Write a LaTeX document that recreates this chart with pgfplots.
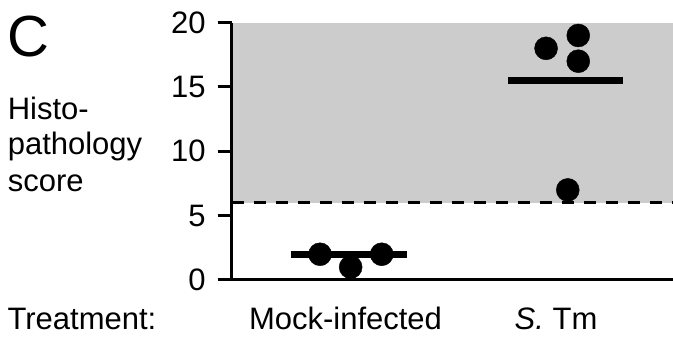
\documentclass[border=0pt]{standalone}
\usepackage{pgfplots}
\pgfplotsset{compat=1.18}
\usepackage{fontspec}
\setmainfont{Liberation Sans}
\begin{document}
\begin{tikzpicture}[x=1pt,y=1pt]
\useasboundingbox (0,0) rectangle (673,339);
\begin{axis}[
  at={(231.7pt,59pt)}, anchor=origin,
  x=223.6pt, y=12.87pt,
  xmin=0, xmax=1.974, ymin=0, ymax=20,
  axis lines=left, axis line style={-, line width=3pt, black},
  axis on top, clip=false,
  xtick=\empty, minor xtick={0,1},
  ytick={0,5,10,15,20},
  tick align=outside, major tick length=14pt, minor tick length=7pt,
  tick style={line width=3pt, black},
  minor tick style={line width=3pt, black},
  /pgf/number format/assume math mode=true,
  tick label style={font=\fontsize{31}{36}\selectfont},
  yticklabel style={inner sep=0pt, anchor=east, xshift=-12pt},
]
\addplot[draw=none, fill=black!20] coordinates {(0,6) (1.974,6) (1.974,20) (0,20)};
\addplot[line width=3pt, dash pattern=on 12pt off 10pt] coordinates {(0,6) (1.974,6)};
\addplot[line width=7pt] coordinates {(0.265,2) (0.782,2)};
\addplot[line width=7pt] coordinates {(1.237,15.5) (1.751,15.5)};
\addplot[only marks, mark=*, mark size=11.5pt, mark options={draw=black, fill=black}] coordinates {
  (0.395,2) (0.532,1) (0.671,2)
  (1.406,18) (1.55,19) (1.55,17) (1.503,7)};
\end{axis}
\node[anchor=base west, inner sep=0pt, font=\fontsize{58}{60}\selectfont] at (7,282) {C};
\node[anchor=base west, inner sep=0pt, font=\fontsize{31}{36}\selectfont] at (7.6,219) {Histo-};
\node[anchor=base west, inner sep=0pt, font=\fontsize{31}{36}\selectfont] at (7.6,184) {pathology};
\node[anchor=base west, inner sep=0pt, font=\fontsize{31}{36}\selectfont] at (7.6,147) {score};
\node[anchor=base west, inner sep=0pt, font=\fontsize{31}{36}\selectfont] at (7.4,9) {Treatment:};
\node[anchor=base, inner sep=0pt, font=\fontsize{31}{36}\selectfont] at (345.5,9) {Mock-infected};
\node[anchor=base, inner sep=0pt, font=\fontsize{31}{36}\selectfont] at (556,9) {\textit{S.} Tm};
\end{tikzpicture}
\end{document}
